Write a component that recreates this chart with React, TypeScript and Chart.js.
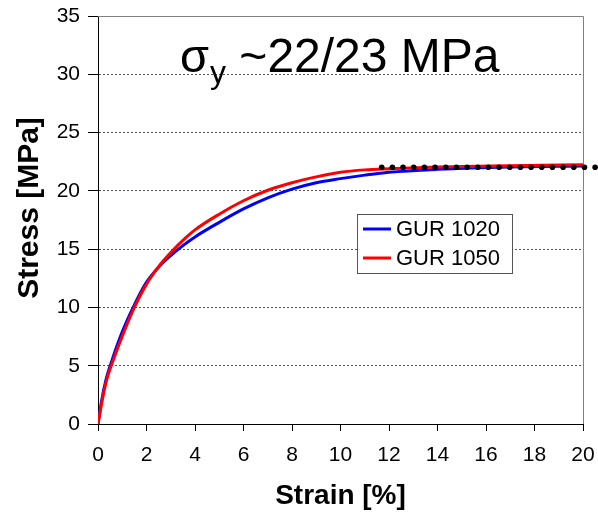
import React, { useEffect, useRef } from "react";
import { Chart, registerables } from "chart.js";

Chart.register(...registerables);

const FONT = "Arial, 'Liberation Sans', sans-serif";

// GUR 1020 (blue) stress-strain curve: strain [%], stress [MPa]
const gur1020Strain = [0, 0.15, 0.33, 0.6, 1.0, 1.45, 1.95, 2.5, 3.0, 3.5, 4.0, 5.0, 6.0, 7.0, 8.0, 9.0, 10.0, 11.0, 12.0, 14.0, 17.0, 20.0];
const gur1020Stress = [0, 2.0, 3.8, 5.6, 7.9, 10.0, 12.0, 13.45, 14.45, 15.3, 16.05, 17.3, 18.45, 19.4, 20.15, 20.7, 21.05, 21.35, 21.6, 21.85, 22.05, 22.13];

// GUR 1050 (red) stress-strain curve
const gur1050Strain = [0, 0.17, 0.36, 0.65, 1.07, 1.5, 2.0, 2.5, 3.0, 3.5, 4.0, 5.0, 6.0, 7.0, 8.0, 9.0, 10.0, 11.0, 12.0, 14.0, 17.0, 20.0];
const gur1050Stress = [0, 2.0, 3.8, 5.6, 7.9, 10.0, 12.0, 13.5, 14.7, 15.75, 16.65, 18.0, 19.15, 20.05, 20.7, 21.2, 21.6, 21.8, 21.9, 22.05, 22.16, 22.25];

// Yield stress reference (dotted line): start/end strain and level
const yieldStrain = [11.7, 20.6];
const yieldStress = [22.02, 22.02];

const seriesNames = ["GUR 1020", "GUR 1050"];
const seriesColors = ["#0000ff", "#ff0000"];

const titleMain = "σ";
const titleSub = "y";
const titleRest = " ~22/23 MPa";
const xTitle = "Strain [%]";
const yTitle = "Stress [MPa]";

const toPts = (xs: number[], ys: number[]) => xs.map((x, i) => ({ x, y: ys[i] }));

const decorPlugin = {
  id: "decor",
  beforeDatasetsDraw(chart: any) {
    const { ctx, chartArea } = chart;
    ctx.save();
    ctx.strokeStyle = "#808080";
    ctx.lineWidth = 1;
    ctx.beginPath();
    ctx.moveTo(chartArea.left, chartArea.top + 0.5);
    ctx.lineTo(chartArea.right + 0.5, chartArea.top + 0.5);
    ctx.lineTo(chartArea.right + 0.5, chartArea.bottom);
    ctx.stroke();
    ctx.restore();
  },
  afterDatasetsDraw(chart: any) {
    const { ctx, scales } = chart;
    const x0 = scales.x.getPixelForValue(yieldStrain[0]);
    const x1 = scales.x.getPixelForValue(yieldStrain[1]);
    const y0 = scales.y.getPixelForValue(yieldStress[0]);
    const y1 = scales.y.getPixelForValue(yieldStress[1]);
    const len = Math.hypot(x1 - x0, y1 - y0);
    const step = 10.67;
    const n = Math.floor(len / step);
    ctx.save();
    ctx.fillStyle = "#000";
    for (let i = 0; i <= n; i++) {
      const t = (i * step) / len;
      ctx.beginPath();
      ctx.arc(x0 + (x1 - x0) * t, y0 + (y1 - y0) * t, 2.8, 0, Math.PI * 2);
      ctx.fill();
    }
    ctx.restore();
  },
  afterDraw(chart: any) {
    const { ctx, chartArea } = chart;
    ctx.save();
    ctx.fillStyle = "#000";
    ctx.textBaseline = "alphabetic";
    ctx.textAlign = "left";
    const baseY = chartArea.top + 56;
    let x = chartArea.left + 82;
    ctx.font = `47px ${FONT}`;
    ctx.fillText(titleMain, x, baseY);
    x += ctx.measureText(titleMain).width + 1;
    ctx.font = `32px ${FONT}`;
    ctx.fillText(titleSub, x, baseY + 11);
    x += ctx.measureText(titleSub).width;
    ctx.font = `48px ${FONT}`;
    ctx.fillText(titleRest, x, baseY);

    ctx.save();
    ctx.translate(30, chartArea.top + 192);
    ctx.rotate(-Math.PI / 2);
    ctx.font = `bold 30px ${FONT}`;
    ctx.textAlign = "center";
    ctx.textBaseline = "middle";
    ctx.fillText(yTitle, 0, 0);
    ctx.restore();

    const lx = chartArea.left + 259;
    const ly = chartArea.top + 198;
    const lw = 155;
    const lh = 59;
    ctx.fillStyle = "#fff";
    ctx.fillRect(lx, ly, lw, lh);
    ctx.strokeStyle = "#555";
    ctx.lineWidth = 1;
    ctx.strokeRect(lx + 0.5, ly + 0.5, lw, lh);
    ctx.font = `22px ${FONT}`;
    ctx.textBaseline = "middle";
    ctx.textAlign = "left";
    seriesNames.forEach((name, i) => {
      const cy = ly + 15 + i * 29;
      ctx.strokeStyle = seriesColors[i];
      ctx.lineWidth = 3;
      ctx.beginPath();
      ctx.moveTo(lx + 6, cy);
      ctx.lineTo(lx + 34, cy);
      ctx.stroke();
      ctx.fillStyle = "#000";
      ctx.fillText(name, lx + 39, cy + 1);
    });
    ctx.restore();
  },
};

export default function App() {
  const ref = useRef<HTMLCanvasElement>(null);
  useEffect(() => {
    document.body.style.margin = "0";
    const chart = new Chart(ref.current!, {
      type: "line",
      data: {
        datasets: [
          {
            label: seriesNames[0],
            data: toPts(gur1020Strain, gur1020Stress),
            borderColor: seriesColors[0],
            borderWidth: 3,
            pointRadius: 0,
            cubicInterpolationMode: "monotone",
            fill: false,
            order: 2,
          },
          {
            label: seriesNames[1],
            data: toPts(gur1050Strain, gur1050Stress),
            borderColor: seriesColors[1],
            borderWidth: 3,
            pointRadius: 0,
            cubicInterpolationMode: "monotone",
            fill: false,
            order: 1,
          },
        ],
      },
      plugins: [decorPlugin],
      options: {
        responsive: false,
        animation: false,
        layout: { padding: { left: 0, top: 16, right: 15, bottom: 0 } },
        plugins: {
          legend: { display: false },
          tooltip: { enabled: false },
          title: { display: false },
        },
        scales: {
          x: {
            type: "linear",
            min: 0,
            max: 20,
            ticks: {
              stepSize: 2,
              color: "#000",
              font: { size: 21, family: FONT },
              padding: 12,
              maxRotation: 0,
            },
            grid: {
              drawOnChartArea: false,
              drawTicks: true,
              tickLength: 7,
              tickColor: "#000",
            },
            border: { color: "#000", width: 1 },
            title: {
              display: true,
              text: xTitle,
              color: "#000",
              font: { size: 28, weight: "bold", family: FONT },
              padding: { top: 0, bottom: 0 },
            },
            afterFit: (s: any) => {
              s.height = 89;
              s.paddingLeft = 0;
              s.paddingRight = 0;
            },
          },
          y: {
            type: "linear",
            min: 0,
            max: 35,
            ticks: {
              stepSize: 5,
              color: "#000",
              font: { size: 21, family: FONT },
              padding: 8,
            },
            grid: {
              color: (c: any) =>
                c.tick && (c.tick.value === 0 || c.tick.value === 35) ? "rgba(0,0,0,0)" : "#555",
              tickColor: "#000",
              tickLength: 10,
              tickBorderDash: [],
              lineWidth: 1,
            },
            border: { color: "#000", width: 1, dash: [2, 2] },
            afterFit: (s: any) => {
              s.width = 98;
              s.paddingTop = 0;
              s.paddingBottom = 0;
            },
          },
        },
      },
    } as any);
    return () => chart.destroy();
  }, []);
  return <canvas ref={ref} width={598} height={513} style={{ display: "block" }} />;
}
